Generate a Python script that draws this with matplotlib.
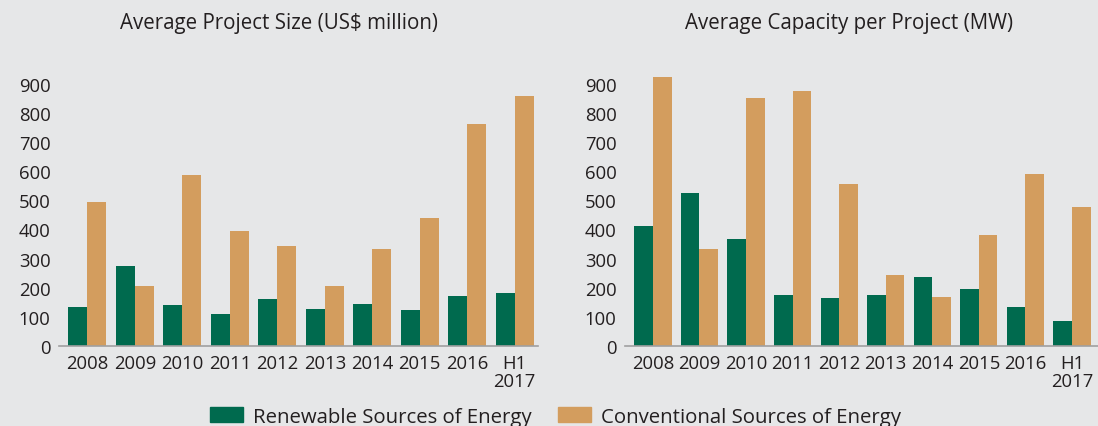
import numpy as np
from matplotlib import pyplot as plt
from matplotlib.patches import Patch

plt.rcParams['font.family'] = ['Open Sans', 'DejaVu Sans']

years = ['2008', '2009', '2010', '2011', '2012', '2013', '2014', '2015', '2016', 'H1\n2017']

# Average project size (US$ million)
size_renew = [132, 276, 142, 111, 162, 128, 145, 125, 173, 180]
size_conv = [495, 207, 585, 396, 344, 207, 334, 440, 760, 856]

# Average capacity per project (MW)
cap_renew = [410, 526, 368, 176, 166, 176, 238, 197, 135, 87]
cap_conv = [924, 334, 852, 876, 554, 245, 169, 382, 591, 475]

bg = '#E6E7E8'
green = '#006A4E'
tan = '#D39D5E'
txt = '#231F20'

fig = plt.figure(figsize=(10.98, 4.27), dpi=100, facecolor=bg)

def panel(rect, renew, conv, title, title_x, xmax):
    ax = fig.add_axes(rect)
    ax.set_facecolor(bg)
    x = np.arange(len(years))
    w = 0.4
    ax.bar(x - w/2, renew, w, color=green)
    ax.bar(x + w/2, conv, w, color=tan)
    ax.set_xlim(-0.6, xmax)
    ax.set_ylim(0, 950)
    ax.set_yticks(np.arange(0, 901, 100))
    ax.set_xticks(x)
    ax.set_xticklabels(years, linespacing=0.95)
    ax.tick_params(length=0, labelsize=13.3, colors=txt)
    ax.tick_params(axis='x', pad=6)
    ax.tick_params(axis='y', pad=6)
    for s in ['top', 'right', 'left']:
        ax.spines[s].set_visible(False)
    ax.spines['bottom'].set_color('#A0A0A0')
    ax.spines['bottom'].set_linewidth(1.2)
    fig.text(title_x, 0.945, title, ha='center', va='center', fontsize=14.8, color=txt)
    return ax

panel([0.0537, 0.1874, 0.4366, 0.6487], size_renew, size_conv,
      'Average Project Size (US$ million)', 0.254, 9.5)
panel([0.5692, 0.1874, 0.4308, 0.6487], cap_renew, cap_conv,
      'Average Capacity per Project (MW)', 0.773, 9.56)

handles = [Patch(color=green, label='Renewable Sources of Energy'),
           Patch(color=tan, label='Conventional Sources of Energy')]
fig.legend(handles=handles, loc='center', bbox_to_anchor=(0.506, 0.022), ncol=2,
           frameon=False, fontsize=14.7, handlelength=1.6, handleheight=0.8,
           columnspacing=1.3, handletextpad=0.5, labelcolor=txt)

plt.savefig('out.png', dpi=100, facecolor=bg)
